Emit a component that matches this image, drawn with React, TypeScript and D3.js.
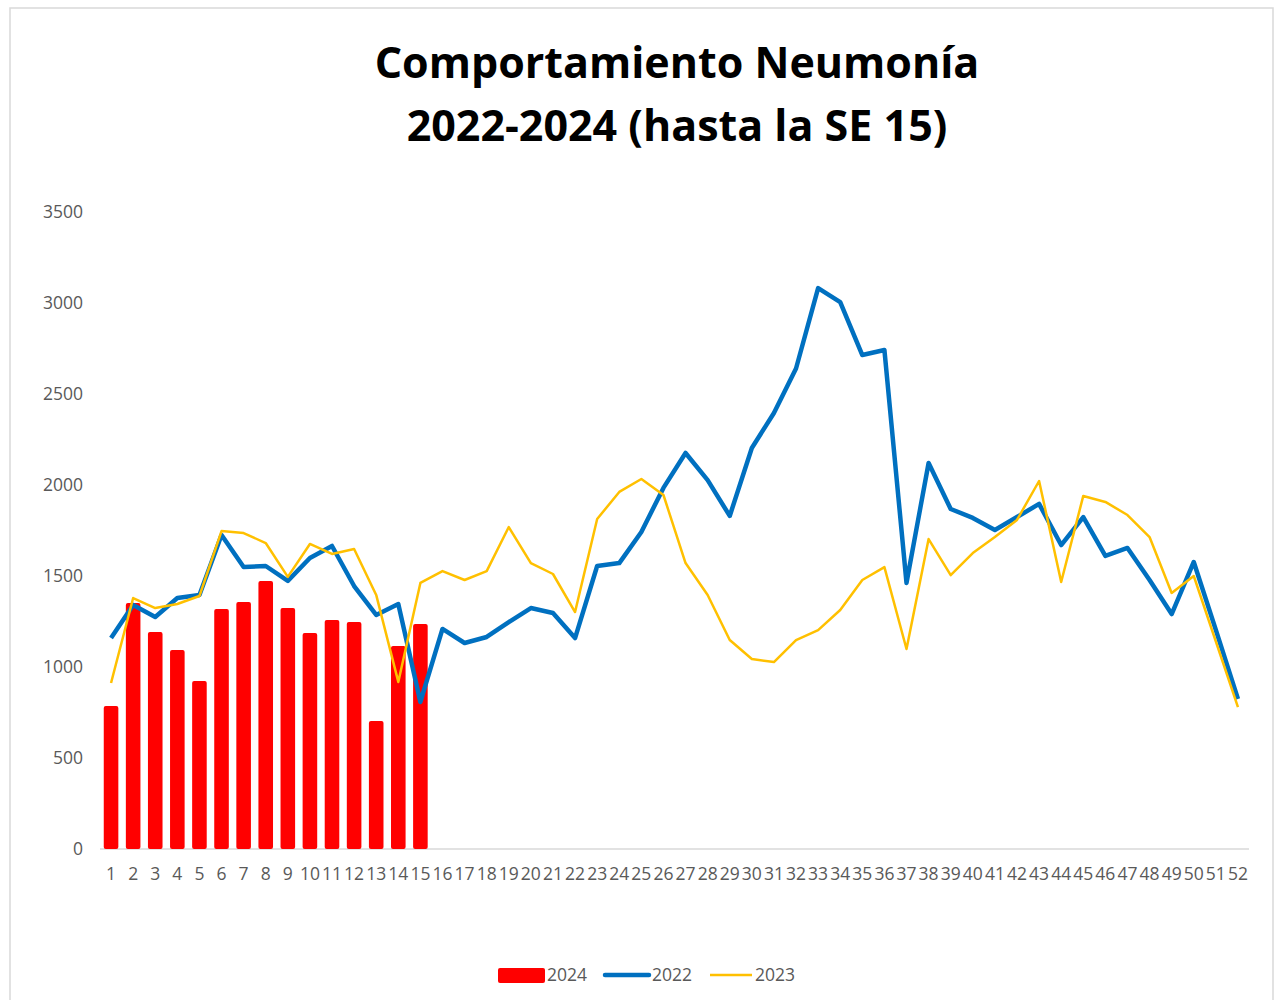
import { scaleBand, scaleLinear, line } from "d3";

const weeks = Array.from({ length: 52 }, (_, i) => String(i + 1));

const values2024 = [
  786, 1352, 1192, 1093, 923, 1319, 1357, 1473, 1324, 1187, 1258, 1247, 703, 1115, 1236,
];

const values2022 = [
  1159, 1341, 1275, 1379, 1396, 1725, 1549, 1555, 1473, 1599, 1665, 1445, 1286, 1346, 808,
  1209, 1132, 1165, 1247, 1324, 1297, 1159, 1555, 1571, 1742, 1984, 2176, 2027, 1830, 2203,
  2396, 2640, 3082, 3005, 2714, 2742, 1462, 2121, 1868, 1819, 1753, 1824, 1896, 1670, 1824,
  1610, 1654, 1478, 1291, 1577, 1203, 824,
];

const values2023 = [
  912, 1379, 1324, 1346, 1390, 1747, 1736, 1681, 1495, 1676, 1621, 1648, 1396, 918, 1462,
  1527, 1478, 1527, 1769, 1571, 1511, 1302, 1813, 1962, 2033, 1945, 1571, 1396, 1148, 1044,
  1027, 1148, 1203, 1313, 1478, 1549, 1099, 1703, 1505, 1626, 1714, 1808, 2022, 1467, 1940,
  1907, 1835, 1714, 1407, 1500, 1140, 780,
];

const yTicks = [0, 500, 1000, 1500, 2000, 2500, 3000, 3500];

const titleLines = ["Comportamiento Neumonía", "2022-2024 (hasta la SE 15)"];

const W = 1277;
const H = 1000;
const FONT = "'Open Sans', 'Noto Sans', sans-serif";
const LABEL = "#595959";

export default function App() {
  const x = scaleBand<string>().domain(weeks).range([100, 1249]).paddingInner(0.34).paddingOuter(0.17);
  const y = scaleLinear().domain([0, 3500]).range([849, 212]);
  const cx = (i: number) => (x(weeks[i]) ?? 0) + x.bandwidth() / 2;

  const lineFn = line<number>()
    .x((_, i) => cx(i))
    .y((d) => y(d));

  return (
    <svg
      width={W}
      height={H}
      style={{ position: "absolute", left: 0, top: 0, background: "#fff" }}
      fontFamily={FONT}
    >
      <rect x={10} y={8} width={1263} height={1000} fill="#fff" stroke="#d9d9d9" strokeWidth={1.5} />

      {titleLines.map((t, i) => (
        <text
          key={t}
          x={677}
          y={78 + i * 63}
          textAnchor="middle"
          fontSize={43}
          fontWeight="bold"
          fill="#000"
        >
          {t}
        </text>
      ))}

      {yTicks.map((t) => (
        <text key={t} x={83} y={y(t) + 6} textAnchor="end" fontSize={17.5} fill={LABEL}>
          {t}
        </text>
      ))}

      <line x1={100} x2={1249} y1={y(0)} y2={y(0)} stroke="#d9d9d9" strokeWidth={1.5} />

      {weeks.map((w, i) => (
        <text key={w} x={cx(i)} y={880} textAnchor="middle" fontSize={17.5} fill={LABEL}>
          {w}
        </text>
      ))}

      {values2024.map((v, i) => (
        <rect
          key={i}
          x={x(weeks[i])}
          y={y(v)}
          width={x.bandwidth()}
          height={y(0) - y(v)}
          rx={2}
          fill="#ff0000"
        />
      ))}

      <path d={lineFn(values2022) ?? ""} fill="none" stroke="#0070c0" strokeWidth={4.5} strokeLinejoin="round" />
      <path d={lineFn(values2023) ?? ""} fill="none" stroke="#ffc000" strokeWidth={2.5} strokeLinejoin="round" />

      <g fontSize={17.5} fill={LABEL}>
        <rect x={498} y={968} width={47} height={15} rx={2} fill="#ff0000" />
        <text x={547} y={981}>2024</text>
        <line x1={605} x2={649} y1={975} y2={975} stroke="#0070c0" strokeWidth={4.5} strokeLinecap="round" />
        <text x={652} y={981}>2022</text>
        <line x1={710} x2={752} y1={975} y2={975} stroke="#ffc000" strokeWidth={2.5} />
        <text x={755} y={981}>2023</text>
      </g>
    </svg>
  );
}
